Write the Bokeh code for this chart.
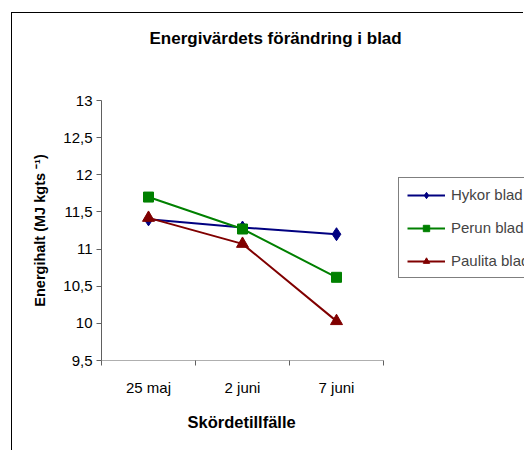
from bokeh.plotting import figure
from bokeh.models import FixedTicker, Legend, LegendItem, Range1d, Title
from bokeh.embed import file_html
from bokeh.resources import INLINE

categories = ["25 maj", "2 juni", "7 juni"]
hykor = [11.40, 11.29, 11.20]
perun = [11.70, 11.27, 10.62]
paulita = [11.42, 11.07, 10.03]
y_ticks = [9.5, 10, 10.5, 11, 11.5, 12, 12.5, 13]
y_tick_labels = ["9,5", "10", "10,5", "11", "11,5", "12", "12,5", "13"]
series_names = ["Hykor blad", "Perun blad", "Paulita blad"]
x_title = "Skördetillfälle"
y_title = "Energihalt (MJ kgts ⁻¹)"
chart_title = "Energivärdets förändring i blad"

FONT = "Liberation Sans"
n = len(categories)
x = [i + 0.5 for i in range(n)]

p = figure(width=512, height=438, output_backend="svg", toolbar_location=None,
           x_range=Range1d(0, 4.5), y_range=Range1d(9.5, 13),
           min_border_left=89, min_border_right=0, min_border_top=87,
           min_border_bottom=91, title=chart_title)
p.styles = {"border-left": "1px solid black", "border-top": "1px solid black",
            "margin-left": "11px", "margin-top": "12px"}
p.outline_line_color = None
p.grid.visible = False
p.background_fill_color = "white"

p.title.align = "left"
p.title.offset = 48
p.title.standoff = 10
p.title.text_font = FONT
p.title.text_font_size = "17px"
p.title.text_font_style = "bold"
p.title.text_color = "black"
# empty spacer between the title and the plot area
p.add_layout(Title(text=" ", text_font_size="2px", standoff=44), "above")

AXIS_COLOR = "#606060"

# x axis (line drawn as a segment so it stops at the last category)
p.xaxis.ticker = FixedTicker(ticks=x, minor_ticks=list(range(n + 1)))
p.xaxis.major_label_overrides = {v: c for v, c in zip(x, categories)}
p.xaxis.axis_line_color = None
p.xaxis.major_tick_out = 0
p.xaxis.major_tick_in = 0
p.xaxis.minor_tick_out = 5
p.xaxis.minor_tick_in = 0
p.xaxis.major_label_standoff = 13
p.segment(x0=[0], y0=[9.5], x1=[n], y1=[9.5], line_color=AXIS_COLOR, line_width=1)

# x axis title, centred under the category axis
p.add_layout(Title(text=x_title, align="left", offset=86, standoff=24,
                   text_font=FONT, text_font_size="16.5px",
                   text_font_style="bold", text_color="black"), "below")

# y axis
p.yaxis.ticker = FixedTicker(ticks=y_ticks, minor_ticks=[])
p.yaxis.major_label_overrides = {v: l for v, l in zip(y_ticks, y_tick_labels)}
p.yaxis.axis_line_color = AXIS_COLOR
p.yaxis.major_tick_out = 5
p.yaxis.major_tick_in = 0
p.yaxis.minor_tick_out = 0
p.yaxis.minor_tick_in = 0
p.yaxis.major_label_standoff = 4
p.yaxis.axis_label = y_title
p.yaxis.axis_label_standoff = 12
p.yaxis.axis_label_text_font_size = "14.5px"

for ax in (p.xaxis, p.yaxis):
    ax.major_tick_line_color = AXIS_COLOR
    ax.minor_tick_line_color = AXIS_COLOR
    ax.major_label_text_font = FONT
    ax.major_label_text_font_size = "15px"
    ax.major_label_text_color = "black"
    ax.axis_label_text_font = FONT
    ax.axis_label_text_font_style = "bold"
    ax.axis_label_text_color = "black"

colors = ["#000080", "#008000", "#800000"]
markers = ["diamond", "square", "triangle"]
sizes = [13, 10, 12]
items = []
for name, vals, c, m, s in zip(series_names, [hykor, perun, paulita], colors, markers, sizes):
    l = p.line(x, vals, line_color=c, line_width=2)
    sc = p.scatter(x, vals, marker=m, size=s, fill_color=c, line_color=c)
    items.append(LegendItem(label=name, renderers=[l, sc]))

legend = Legend(items=items, location=(297, 82), border_line_color="black",
                border_line_width=1, background_fill_color="white",
                background_fill_alpha=1, padding=8, spacing=16,
                glyph_width=38, glyph_height=16, label_height=16,
                label_standoff=6, label_text_font=FONT,
                label_text_font_size="15px", margin=0)
p.add_layout(legend, "center")

open("out.html", "w").write(file_html(p, INLINE))
